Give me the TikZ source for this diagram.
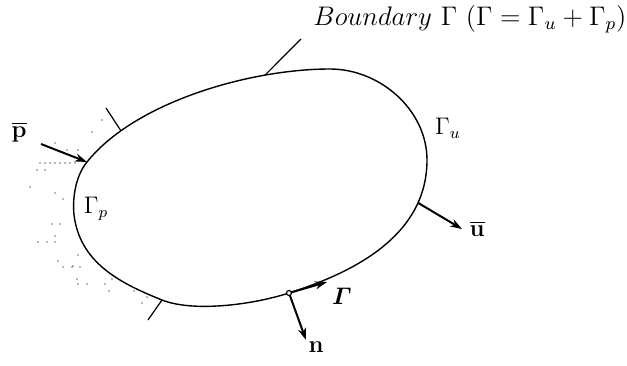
\documentclass[tikz,border=0pt]{standalone}
\usepackage{amsmath}
\usetikzlibrary{arrows.meta}
\tikzset{
  bnd/.style={line width=0.7pt,line join=round},
  tick/.style={line width=0.6pt},
  vec/.style={line width=1pt,-{Stealth[length=6pt,width=4pt]}},
  lbl/.style={inner sep=0pt,font=\large},
  speck/.style={fill=black!55,draw=none}
}
\begin{document}
\begin{tikzpicture}[x=0.5pt,y=-0.5pt]
\useasboundingbox (0,0) rectangle (627,365);
% boundary
\draw[bnd] (87,162)
 .. controls (135,102) and (250,69) .. (330,69) coordinate[pos=0.19] (t1b) coordinate[pos=0.75] (la)
 .. controls (380,69) and (427,110) .. (427,160)
 .. controls (427,240) and (345,275) .. (289,293) coordinate[pos=0.2] (us)
 .. controls (250,305.5) and (192,312) .. (162,300) coordinate (t2a)
 .. controls (118,282.4) and (80,262) .. (74,215)
 .. controls (72,195) and (77,174) .. (87,162) -- cycle;
% tick marks and leader
\coordinate (t1a) at (106,108);
\coordinate (t2b) at (148,320);
\coordinate (lb) at (301,39);
\draw[tick] (t1a) -- (t1b);
\draw[tick] (t2a) -- (t2b);
\draw[tick] (la) -- (lb);
% vectors
\coordinate (ps) at (41,144); \coordinate (pe) at (87,162);
\coordinate (ue) at (462,229);
\coordinate (q) at (289,293); \coordinate (te) at (327,282); \coordinate (ne) at (306,340);
\draw[vec] (ps) -- (pe);
\draw[vec] (us) -- (ue);
\draw[vec] (q) -- (te);
\draw[vec] (q) -- (ne);
\draw[line width=0.6pt,fill=white] (q) circle (2.5);
% labels
\node[lbl] (pl) at (19,132) {$\overline{\mathbf{p}}$};
\node[lbl] (ul) at (477,229) {$\overline{\mathbf{u}}$};
\node[lbl] (nl) at (316,347) {$\mathbf{n}$};
\node[lbl] (gl) at (342,296) {$\boldsymbol{\varGamma}$};
\node[lbl] (gu) at (448,128) {$\Gamma_u$};
\node[lbl] (gp) at (96,209) {$\Gamma_p$};
\node[lbl,anchor=base west,scale=1.12,transform shape] (bl) at (313,25) {$Boundary\ \Gamma\ (\Gamma=\Gamma_u+\Gamma_p)$};
% dots on the fixed side
\foreach \x/\y in {40/163,45/163,50/163,55/163,60/163,65/163,70/163,75/163,
 37/170,45/170,30/187,55/193,63/199,52/224,60/224,55/236,38/242,47/242,55/242,
 78/255,58/261,63/267,72/267,80/267,73/266,77/279,78/284,87/284,105/284,112/279,
 109/291,134/291,147/297,142/303,102/120,92/132,55/143,67/150,78/150}
 \fill[speck] (\x,\y) circle (0.8);
\end{tikzpicture}
\end{document}
